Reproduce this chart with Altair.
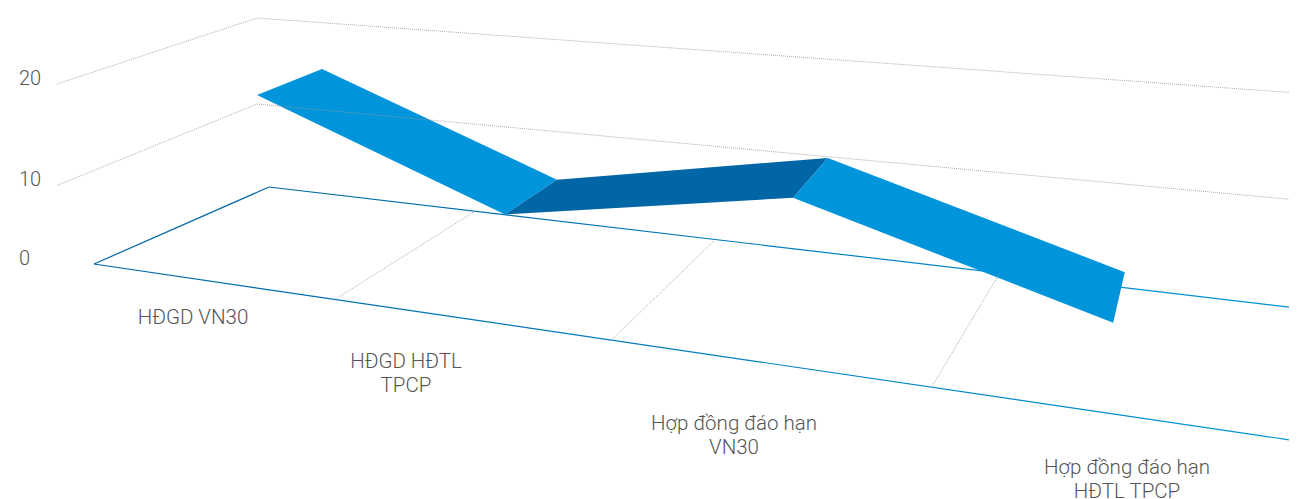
import altair as alt
import pandas as pd

# ---- chart data ----
categories = ["HĐGD VN30", "HĐGD HĐTL\nTPCP", "Hợp đồng đáo hạn\nVN30", "Hợp đồng đáo hạn\nHĐTL TPCP"]
series_values = [19.4, 8.85, 14.9, 4.7]
axis_ticks = [0, 10, 20]
grid_levels = [10, 20]

# ---- layout / 3D projection constants ----
W, H = 1289, 505
DARK, LIGHT = "#0066A6", "#0095DB"
FLOOR = {
    0: dict(x0=94, a=219.56, c=-0.064, y0=264, s=0.1471),
    1: dict(x0=269, a=171.9, c=-0.0717, y0=187, s=0.1177),
}
WALL = [(57, 287, 10.15), (257, 190, 8.6), (1297, 307, 10.7)]
RIBBON = {
    "front": dict(x0=252.2, a=232.6, b=18.0, m=0.247, y0=260, xr=257, s=0.12, k=8.5),
    "back": dict(x0=316.0, a=222.7, b=15.47, m=0.31, y0=228, xr=322, s=0.103, k=8.2),
}
LABEL_SPOTS = [(193, 308), (406, 352), (734, 414), (1127, 458)]
TICK_SPOTS = {0: 259, 10: 180, 20: 79}


def floor(u, d):
    f = FLOOR[d]
    x = (f["x0"] + f["a"] * u) / (1 + f["c"] * u)
    return x, f["y0"] + f["s"] * (x - f["x0"])


def ribbon(u, v, side):
    r = RIBBON[side]
    x = r["x0"] + r["a"] * u + r["b"] * u * u + r["m"] * v
    return x, r["y0"] + r["s"] * (x - r["xr"]) - r["k"] * v


xs = alt.X("x:Q", axis=None, scale=alt.Scale(domain=[8, W], range=[0, W - 8], nice=False, zero=False))
ys = alt.Y("y:Q", axis=None, scale=alt.Scale(domain=[8, H], range=[0, H - 8], nice=False, zero=False))

# ribbon polygons
rows = []
for i in range(len(series_values) - 1):
    v0, v1 = series_values[i], series_values[i + 1]
    shade = DARK if v1 > v0 else LIGHT
    pts = [ribbon(i, v0, "front"), ribbon(i + 1, v1, "front"), ribbon(i + 1, v1, "back"), ribbon(i, v0, "back")]
    for j, (x, y) in enumerate(pts):
        rows.append(dict(seg=i, o=j, x=x, y=y, c=shade))
ribbon_df = pd.DataFrame(rows)
ribbon_layer = alt.Chart(ribbon_df).mark_line(filled=True, strokeWidth=0, interpolate="linear-closed").encode(
    x=xs, y=ys, detail="seg:N", order="o:Q", color=alt.Color("c:N", scale=None)
)

# floor edges
grad = alt.LinearGradient(
    gradient="linear", x1=0, x2=1, y1=0, y2=0,
    stops=[alt.GradientStop(offset=0, color=DARK), alt.GradientStop(offset=1, color=LIGHT)],
)


def segdf(points):
    return pd.DataFrame([dict(o=i, x=p[0], y=p[1]) for i, p in enumerate(points)])


front_edge = alt.Chart(segdf([floor(0, 0), floor(4, 0)])).mark_line(stroke=grad, strokeWidth=1.2, clip=True).encode(x=xs, y=ys, order="o:Q")
back_edge = alt.Chart(segdf([floor(0, 1), floor(4, 1)])).mark_line(stroke=grad, strokeWidth=1.2, clip=True).encode(x=xs, y=ys, order="o:Q")
left_edge = alt.Chart(segdf([floor(0, 0), floor(0, 1)])).mark_line(stroke=DARK, strokeWidth=1.2).encode(x=xs, y=ys, order="o:Q")

# floor grid
rows = []
for u in range(1, len(categories)):
    rows += [dict(g=u, o=0, x=floor(u, 0)[0], y=floor(u, 0)[1]), dict(g=u, o=1, x=floor(u, 1)[0], y=floor(u, 1)[1])]
floor_grid = alt.Chart(pd.DataFrame(rows)).mark_line(stroke="#999999", strokeWidth=1, strokeDash=[1, 1], opacity=0.8).encode(
    x=xs, y=ys, detail="g:N", order="o:Q"
)

# wall grid
rows = []
for lv in grid_levels:
    for j, (x, y0, k) in enumerate(WALL):
        rows.append(dict(g=lv, o=j, x=x, y=y0 - k * lv))
wall_grid = alt.Chart(pd.DataFrame(rows)).mark_line(stroke="#999999", strokeWidth=1, strokeDash=[1, 1], opacity=0.8, clip=True).encode(
    x=xs, y=ys, detail="g:N", order="o:Q"
)

# text
cat_df = pd.DataFrame([dict(t=c, x=p[0], y=p[1]) for c, p in zip(categories, LABEL_SPOTS)])
cat_text = alt.Chart(cat_df).mark_text(
    font="Roboto", fontWeight=300, fontSize=20.5, color="#555555", align="center", baseline="top",
    lineBreak="\n", lineHeight=24,
).encode(x=xs, y=ys, text="t:N")

tick_df = pd.DataFrame([dict(t=str(v), x=19, y=TICK_SPOTS[v]) for v in axis_ticks])
tick_text = alt.Chart(tick_df).mark_text(
    font="Roboto", fontWeight=300, fontSize=20, color="#555555", align="left", baseline="middle"
).encode(x=xs, y=ys, text="t:N")

chart = alt.layer(
    front_edge, back_edge, left_edge, ribbon_layer, floor_grid, wall_grid, cat_text, tick_text
).properties(
    width=W - 8, height=H - 8, padding=0,
    autosize=alt.AutoSizeParams(type="none"),
).configure_view(stroke=None)

chart.save("out.html", embed_options={"renderer": "svg", "actions": False})
